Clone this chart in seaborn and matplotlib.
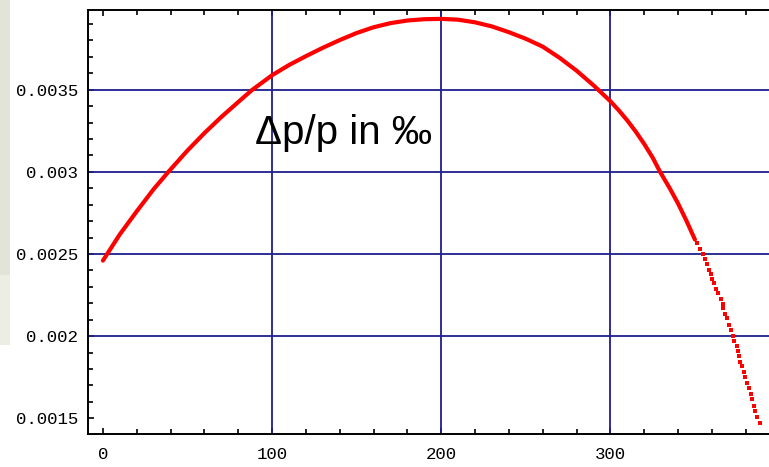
import matplotlib
matplotlib.use("Agg")
import matplotlib.pyplot as plt
from matplotlib.ticker import FixedLocator, MultipleLocator
from matplotlib.patches import Rectangle
import pandas as pd
import seaborn as sns

# Momentum deviation along the orbit: densely sampled part (drawn as a solid trace)
curve_x = [0, 10, 20, 30, 38.7, 50, 60, 70, 80, 88, 100, 110, 120, 130, 140,
           150, 160, 170, 180, 190, 200, 210, 220, 230, 240, 250, 260, 270,
           280, 290, 300, 305, 310, 315, 320, 325, 329.4, 335, 340, 345, 350]
curve_y = [0.002460, 0.002620, 0.002760, 0.002895, 0.003000, 0.003130,
           0.003236, 0.003334, 0.003425, 0.003497, 0.003588, 0.003650,
           0.003704, 0.003755, 0.003802, 0.003845, 0.003880, 0.003905,
           0.003921, 0.003929, 0.003931, 0.003926, 0.003910, 0.003885,
           0.003850, 0.003810, 0.003762, 0.003694, 0.003616, 0.003527,
           0.003430, 0.003374, 0.003313, 0.003245, 0.003170, 0.003087,
           0.003000, 0.002902, 0.002808, 0.002702, 0.002588]

# Steep tail where the individual samples separate into dots
tail_x = [351.0, 353.0, 354.6, 356.0, 357.3, 358.5, 359.3, 360.1, 361.3, 362.5,
          363.6, 365.2, 366.4, 366.8, 367.6, 368.8, 369.9, 371.1, 372.3, 373.1,
          374.7, 375.7, 375.9, 376.6, 377.8, 379.0, 379.8, 381.0, 382.2, 383.0,
          383.7, 384.9, 385.7, 386.9, 388.5]
tail_y = [0.002569, 0.002528, 0.002500, 0.002468, 0.002439, 0.002403,
          0.002377, 0.002347, 0.002326, 0.002286, 0.002262, 0.002229,
          0.002197, 0.002171, 0.002136, 0.002108, 0.002068, 0.002039,
          0.002003, 0.001969, 0.001938, 0.001912, 0.001878, 0.001844,
          0.001817, 0.001783, 0.001753, 0.001716, 0.001682, 0.001648,
          0.001615, 0.001575, 0.001543, 0.001510, 0.001474]

x_ticks = [0, 100, 200, 300]
x_labels = ["0", "100", "200", "300"]
y_ticks = [0.0015, 0.002, 0.0025, 0.003, 0.0035]
y_labels = ["0.0015", "0.002", "0.0025", "0.003", "0.0035"]
x_grid = [100, 200, 300]
y_grid = [0.002, 0.0025, 0.003, 0.0035]
label_text = "Δp/p in ‰"

sns.set_theme(style="white")
plt.rcParams["font.family"] = ["Liberation Sans", "DejaVu Sans"]

W, H = 769, 467
fig = plt.figure(figsize=(W / 100, H / 100), dpi=100)
fig.patch.set_facecolor("white")

# faint slide-background strip on the far left
fig.patches.append(Rectangle((0, (H - 275) / H), 10 / W, 275 / H,
                             transform=fig.transFigure, facecolor="#e1e4d6",
                             edgecolor="none", zorder=0))
fig.patches.append(Rectangle((0, (H - 345) / H), 10 / W, 70 / H,
                             transform=fig.transFigure, facecolor="#eceee4",
                             edgecolor="none", zorder=0))

ax = fig.add_axes([87.7 / W, 32.7 / H, 691.8 / W, 424.3 / H])
ax.set_facecolor("white")

navy = "#1e1e8e"
for gx in x_grid:
    ax.axvline(gx, color=navy, lw=1.3, zorder=1)
for gy in y_grid:
    ax.axhline(gy, color=navy, lw=1.3, zorder=1)

curve = pd.DataFrame({"s": curve_x, "dp": curve_y})
tail = pd.DataFrame({"s": tail_x, "dp": tail_y})
sns.lineplot(data=curve, x="s", y="dp", ax=ax, color="#ff0000", lw=3.0,
             sort=False, zorder=3)
sns.scatterplot(data=tail, x="s", y="dp", ax=ax, color="#ff0000", marker="s",
                s=10, linewidth=0, zorder=3)

ax.text(89.9, 0.003167, label_text, fontsize=29, color="black",
        ha="left", va="baseline", family=["Liberation Sans", "DejaVu Sans"],
        zorder=4)

ax.set_xlim(-9, 400)
ax.set_ylim(0.001403, 0.003985)
ax.set_xlabel("")
ax.set_ylabel("")

ax.xaxis.set_major_locator(FixedLocator(x_ticks))
ax.set_xticklabels(x_labels)
ax.yaxis.set_major_locator(FixedLocator(y_ticks))
ax.set_yticklabels(y_labels)
ax.xaxis.set_minor_locator(MultipleLocator(20))
ax.yaxis.set_minor_locator(MultipleLocator(0.0001))

ax.tick_params(which="both", direction="in", top=True, right=True,
               bottom=True, left=True, color="black", width=1.2)
ax.tick_params(which="major", length=4.5)
ax.tick_params(which="minor", length=3.5)
ax.tick_params(axis="x", which="major", pad=9)
ax.tick_params(axis="y", which="major", pad=7)
for lab in ax.get_xticklabels() + ax.get_yticklabels():
    lab.set_family(["Liberation Mono", "DejaVu Sans Mono"])
    lab.set_fontsize(12.5)
    lab.set_color("black")

for sp in ax.spines.values():
    sp.set_visible(True)
    sp.set_color("black")
    sp.set_linewidth(1.4)

fig.savefig("out.png", dpi=100, facecolor="white")
